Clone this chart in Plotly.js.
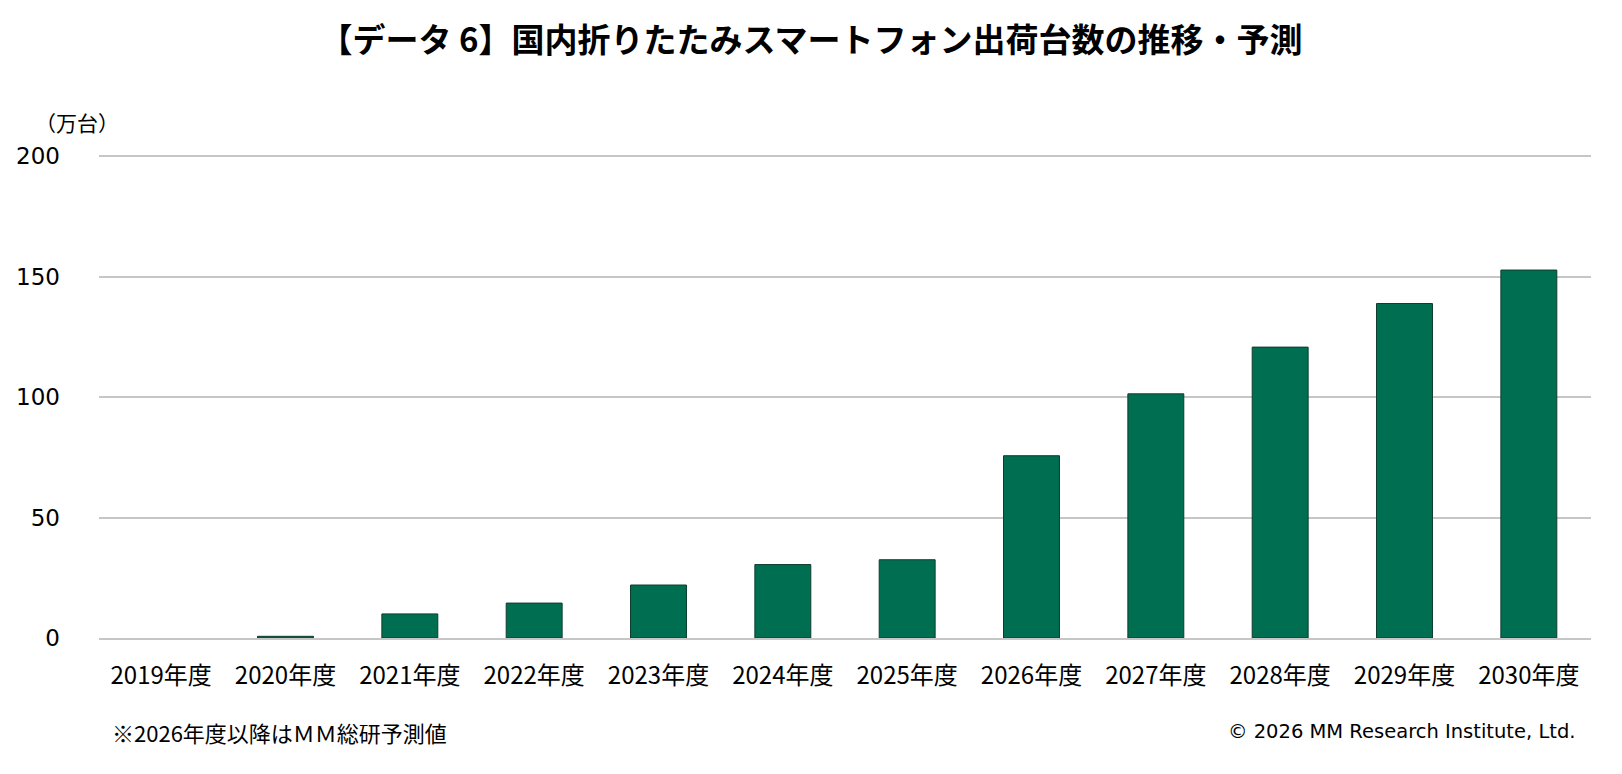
<!DOCTYPE html>
<html>
<head>
<meta charset="utf-8">
<script src="https://cdn.plot.ly/plotly-3.0.1.min.js"></script>
<style>
  html, body { margin: 0; padding: 0; background: #fff; }
  #chart { width: 1622px; height: 774px; }
</style>
</head>
<body>
<div id="chart"></div>
<script>
// fiscal years and shipments (10k units), 2026 onward are forecasts
var years = ['2019年度', '2020年度', '2021年度', '2022年度', '2023年度', '2024年度',
             '2025年度', '2026年度', '2027年度', '2028年度', '2029年度', '2030年度'];
var shipments = [0, 0.7, 10, 14.5, 22, 30.5, 32.5, 75.7, 101.4, 120.8, 138.9, 152.8];
var yTicks = [0, 50, 100, 150, 200];

var jp = '"Noto Sans CJK JP", "Noto Sans", sans-serif';
var latin = '"DejaVu Sans", Verdana, sans-serif';

// plot box in pixels (0 at y=638, 200 at y=156)
var plotL = 99, plotR = 1591, plotB = 638, pxPerUnit = 2.41;
var yTop = 201;   // a hair above 200 so the top gridline is drawn

var bars = {
    x: years,
    y: shipments,
    type: 'bar',
    width: 0.45,
    marker: {
        color: '#006e51',
        line: {color: '#0d3d2c', width: shipments.map(function (v) { return v > 0 ? 1 : 0; })}
    },
    hoverinfo: 'x+y'
};

var plotT = plotB - yTop * pxPerUnit;
function py(pix) { return (plotB - pix) / (plotB - plotT); }
function px(pix) { return (pix - plotL) / (plotR - plotL); }

var layout = {
    width: 1622,
    height: 774,
    margin: {l: plotL, r: 1622 - plotR, t: plotT, b: 774 - plotB},
    paper_bgcolor: '#ffffff',
    plot_bgcolor: '#ffffff',
    showlegend: false,
    title: {
        text: '<b>【データ 6】国内折りたたみスマートフォン出荷台数の推移・予測</b>',
        font: {family: jp, size: 33, color: '#000000'},
        x: 0.5, xanchor: 'center',
        y: 1 - 40 / 774, yanchor: 'middle'
    },
    xaxis: {
        type: 'category',
        tickfont: {family: jp, size: 24, color: '#000000'},
        ticks: '',
        ticklabelstandoff: 15,
        showgrid: false,
        showline: true,
        linecolor: '#c6c6c6',
        linewidth: 2,
        fixedrange: true
    },
    yaxis: {
        range: [0, yTop],
        tickvals: yTicks,
        tickfont: {family: latin, size: 23, color: '#000000'},
        ticklabelstandoff: 38,
        showgrid: true,
        gridcolor: '#c6c6c6',
        gridwidth: 2,
        zeroline: false,
        showline: false,
        ticks: '',
        fixedrange: true
    },
    annotations: [
        {
            text: '（万台）', xref: 'paper', yref: 'paper',
            x: px(77), y: py(122), xanchor: 'center', yanchor: 'middle',
            showarrow: false, font: {family: jp, size: 21, color: '#000000'}
        },
        {
            text: '※2026年度以降はＭＭ総研予測値', xref: 'paper', yref: 'paper',
            x: px(110), y: py(732), xanchor: 'left', yanchor: 'middle',
            showarrow: false, font: {family: jp, size: 22, color: '#000000'}
        },
        {
            text: '© 2026 MM Research Institute, Ltd.', xref: 'paper', yref: 'paper',
            x: px(1577), y: py(732), xanchor: 'right', yanchor: 'middle',
            showarrow: false, font: {family: latin, size: 19.5, color: '#000000'}
        }
    ]
};

Plotly.newPlot(document.getElementById('chart'), [bars], layout, {displayModeBar: false, staticPlot: true});
</script>
</body>
</html>
